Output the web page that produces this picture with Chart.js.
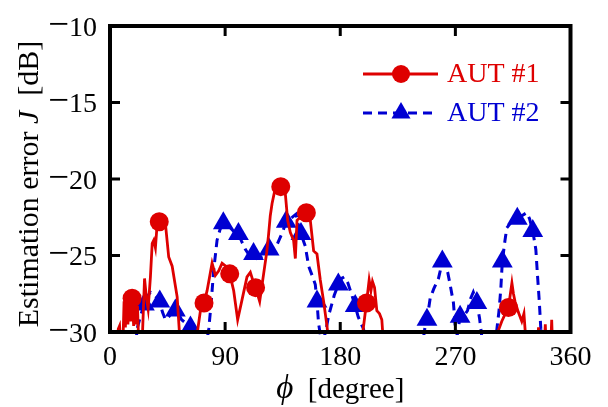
<!DOCTYPE html>
<html>
<head>
<meta charset="utf-8">
<script src="https://cdn.jsdelivr.net/npm/chart.js@4/dist/chart.umd.min.js"></script>
<style>
  html, body { margin: 0; padding: 0; background: #fff; }
  canvas { display: block; }
</style>
</head>
<body>
<canvas id="errChart" width="608" height="407"></canvas>
<script>
// ---- data: estimation error J [dB] vs azimuth phi [degree] ----
// values below -30 dB fall outside the plot and are clipped at the axis
const phi1 = [
  0, 5, 6.5, 7.5, 8.5, 10, 11, 12, 13, 14, 15, 16, 17.3, 18.5, 19.5, 20.5, 21.5, 22.5,
  25, 27, 28.5, 29.8, 31.6, 33, 34.2, 35.5, 36.9, 38.5, 41, 43.3, 45.9, 48.6, 52.5, 55,
  67, 68.5, 70.7, 73.5, 75.9, 79.8, 82.4, 85, 87.6, 90.5, 93.6, 96.7, 99.8, 103.2,
  107.1, 109.7, 112.3, 113.8, 117, 120.1, 122.5, 124, 125.3, 126.7, 129.2, 133.5,
  137, 138.9, 141, 143.5, 144.9, 146.2, 147.5, 150.5, 153.5, 156.6, 159.2, 161.8,
  164.4, 167, 169.6, 171.5,
  197, 197.8, 200.5, 202.6, 204, 205.2, 206.8, 208.6, 210.7, 212.5, 214,
  303, 303.6, 306.3, 308.5, 311.5, 314.2, 315.4, 316.6, 319.2, 321.9, 323.6, 325.5,
  334, 335, 336, 339.5, 340.3, 341, 344.5, 345.3, 346, 360
];
const j1 = [
  -31, -31, -29.8, -29.6, -31, -31, -28.0, -29.7, -27.9, -29.5, -28.0, -29.3, -27.8, -29.6, -28.1, -29.5, -28.3, -31,
  -31, -26.5, -27.8, -28.5, -26.4, -24.2, -24.0, -24.5, -22.9, -22.8, -22.8, -22.9, -25.1, -25.7, -27.7, -31,
  -31, -29.9, -28.6, -28.1, -27.3, -25.5, -26.3, -26.0, -25.5, -25.7, -26.2, -27.3, -29.2, -27.9,
  -26.4, -26.1, -26.8, -27.1, -28.0, -26.2, -24.8, -23.6, -22.4, -21.6, -20.6, -20.5,
  -20.9, -22.7, -23.5, -24.0, -25.2, -22.7, -22.6, -22.3, -22.2, -22.7, -24.7, -24.9,
  -26.6, -28.0, -29.6, -31,
  -31, -29.9, -28.1, -26.6, -27.3, -26.7, -27.1, -28.6, -28.8, -29.2, -31,
  -31, -29.9, -29.3, -28.9, -28.4, -26.8, -27.5, -28.0, -28.7, -29.3, -28.8, -31,
  -31, -29.7, -31, -31, -29.5, -31, -31, -29.2, -31, -31
];
const mark1 = [17.3, 38.5, 73.5, 93.6, 113.8, 133.5, 153.5, 200.5, 311.5];

const phi2 = [
  0, 20, 21.2, 24, 26.9, 29, 31.6, 35, 38.9, 41, 43.3, 46, 48.5, 51.1, 54, 56, 59, 62.9, 64.5, 66,
  75, 77.2, 79, 81, 83.7, 86, 88.6, 92, 96.5, 100.4, 103, 105.8, 109, 112.2, 115, 118, 121, 124.4,
  127.5, 130.5, 134.7, 137.8, 141, 145.4, 147, 149.3, 152.7, 155.3, 158, 160.5, 161.8, 163,
  165, 167, 169, 171, 175.3, 178.5, 181, 183.1, 186, 189.1, 191.7, 194, 196, 198.2, 200,
  244, 246.4, 247.8, 250.3, 253, 256.8, 259.8, 262, 264, 265.9, 268.5, 270, 271.5, 273.7,
  276, 279.5, 282, 284, 286.8, 288.9, 290.5, 292,
  301, 302.6, 304, 305.5, 306.7, 308.8, 310.2, 313, 318.4, 322, 325.8, 328, 330.5, 332.9,
  334.2, 335.6, 336.8, 338, 360
];
const j2 = [
  -31, -31, -29.8, -28.9, -28.2, -27.7, -27.4, -27.6, -28.0, -28.7, -29.2, -29.0, -28.7, -28.6, -28.9, -29.2, -29.4, -29.7, -30.5, -31,
  -31, -29.8, -28.2, -26.0, -24.0, -23.3, -22.9, -23.0, -23.4, -23.6, -24.1, -24.6, -25.0, -24.9, -25.2, -25.1, -24.9, -24.6,
  -24.6, -24.3, -23.5, -22.8, -22.6, -22.3, -22.9, -23.6, -24.4, -25.7, -26.3, -26.9, -28.0, -29.4,
  -30.5, -30.5, -29.8, -28.9, -27.6, -26.9, -26.5, -26.4, -26.8, -27.6, -28.3, -29.0, -29.4, -29.8, -31,
  -31, -29.6, -29.2, -27.8, -27.2, -26.5, -25.4, -25.6, -26.1, -26.9, -28.1, -29.8, -30.2, -29.0,
  -29.0, -28.6, -27.8, -27.4, -28.1, -29.1, -30.2, -31,
  -31, -29.7, -28.7, -27.2, -25.4, -24.0, -23.2, -22.9, -22.6, -22.4, -22.2, -22.6, -23.4, -24.6,
  -26.3, -28.0, -29.8, -31, -31
];
const mark2 = [26.9, 38.9, 51.1, 62.9, 88.6, 100.4, 112.2, 124.4, 137.8, 149.3, 161.8, 178.5,
  191.7, 247.8, 259.8, 273.7, 286.8, 306.7, 318.4, 330.5];

const RED = 'rgb(222, 0, 0)';
const BLUE = 'rgb(0, 0, 210)';
const FONT = "'Liberation Serif', 'Times New Roman', serif";
const TICK_LEN = 10;

Chart.defaults.font.family = FONT;

const toPoints = (xs, ys) => xs.map((x, i) => ({ x, y: ys[i] }));
const markerRadius = (marks, r) => (ctx) => {
  const p = ctx.raw;
  return p && marks.includes(p.x) ? r : 0;
};

// draws runs of [text, italic, size] one after another from (x, y)
function drawRuns(ctx, runs, x, y) {
  runs.forEach(([txt, italic, size]) => {
    ctx.font = (italic ? 'italic ' : '') + size + 'px ' + FONT;
    ctx.fillText(txt, x, y);
    x += ctx.measureText(txt).width;
  });
}
function runsWidth(ctx, runs) {
  return runs.reduce((w, [txt, italic, size]) => {
    ctx.font = (italic ? 'italic ' : '') + size + 'px ' + FONT;
    return w + ctx.measureText(txt).width;
  }, 0);
}

// box frame with inward ticks on all four sides, plus y tick labels
// (drawn here so the minus sign can be set a little larger than the digits)
const framePlugin = {
  id: 'frame',
  afterDatasetsDraw(chart) {
    const { ctx, chartArea: a, scales: { x, y } } = chart;
    ctx.save();
    ctx.strokeStyle = '#000';
    ctx.lineWidth = 3;
    ctx.beginPath();
    x.ticks.forEach(t => {
      const px = x.getPixelForValue(t.value);
      ctx.moveTo(px, a.bottom); ctx.lineTo(px, a.bottom - TICK_LEN);
      ctx.moveTo(px, a.top); ctx.lineTo(px, a.top + TICK_LEN);
    });
    y.ticks.forEach(t => {
      const py = y.getPixelForValue(t.value);
      ctx.moveTo(a.left, py); ctx.lineTo(a.left + TICK_LEN, py);
      ctx.moveTo(a.right, py); ctx.lineTo(a.right - TICK_LEN, py);
    });
    ctx.stroke();
    ctx.lineWidth = 4;
    ctx.strokeRect(a.left, a.top, a.right - a.left, a.bottom - a.top);

    ctx.fillStyle = '#000';
    ctx.textAlign = 'left';
    ctx.textBaseline = 'alphabetic';
    y.ticks.forEach(t => {
      const py = y.getPixelForValue(t.value);
      const runs = t.value < 0
        ? [['\u2212', false, 37], [String(Math.abs(t.value)), false, 28]]
        : [[String(t.value), false, 28]];
      const w = runsWidth(ctx, runs);
      drawRuns(ctx, runs, 97 - w, py + 9.5);
    });
    ctx.restore();
  }
};

// axis titles with italic symbols
const titlePlugin = {
  id: 'axisTitles',
  afterDraw(chart) {
    const { ctx, chartArea: a } = chart;
    ctx.save();
    ctx.fillStyle = '#000';
    ctx.textBaseline = 'alphabetic';
    ctx.textAlign = 'left';

    const xRuns = [['\u03D5', true, 33], ['  [degree]', false, 29]];
    const xw = runsWidth(ctx, xRuns);
    drawRuns(ctx, xRuns, (a.left + a.right) / 2 - xw / 2, 398);

    const yRuns = [['Estimation error ', false, 30], ['J', true, 30], ['  [dB]', false, 30]];
    const yw = runsWidth(ctx, yRuns);
    ctx.translate(38, 184);
    ctx.rotate(-Math.PI / 2);
    drawRuns(ctx, yRuns, -yw / 2, 0);
    ctx.restore();
  }
};

// legend: line sample with a marker in the middle, coloured label
const legendPlugin = {
  id: 'lineLegend',
  afterDraw(chart) {
    const { ctx } = chart;
    const x0 = 363, x1 = 438, xm = 401, tx = 447;
    const rows = chart.data.datasets.map((ds, i) => ({ ds, y: 74 + i * 39 }));
    ctx.save();
    rows.forEach(({ ds, y }) => {
      ctx.strokeStyle = ds.borderColor;
      ctx.lineWidth = ds.borderWidth;
      ctx.setLineDash(ds.borderDash || []);
      ctx.beginPath();
      ctx.moveTo(x0, y); ctx.lineTo(x1, y);
      ctx.stroke();
      ctx.setLineDash([]);
      ctx.fillStyle = ds.borderColor;
      Chart.helpers.drawPoint(ctx, {
        pointStyle: ds.pointStyle,
        radius: ds.legendRadius,
        rotation: 0,
        borderWidth: 0
      }, xm, y);
      ctx.font = '28px ' + FONT;
      ctx.textBaseline = 'middle';
      ctx.fillText(ds.label, tx, y + 1);
    });
    ctx.restore();
  }
};

new Chart(document.getElementById('errChart'), {
  type: 'line',
  data: {
    datasets: [
      {
        label: 'AUT #1',
        data: toPoints(phi1, j1),
        borderColor: RED,
        backgroundColor: RED,
        borderWidth: 2.8,
        pointStyle: 'circle',
        legendRadius: 9,
        pointRadius: markerRadius(mark1, 9.5),
        pointBorderWidth: 0,
        tension: 0,
        clip: { left: 0, top: 0, right: 0, bottom: 2 }
      },
      {
        label: 'AUT #2',
        data: toPoints(phi2, j2),
        borderColor: BLUE,
        backgroundColor: BLUE,
        borderWidth: 3,
        borderDash: [9, 6],
        pointStyle: 'triangle',
        legendRadius: 11,
        pointRadius: markerRadius(mark2, 12),
        pointBorderWidth: 0,
        tension: 0,
        clip: { left: 0, top: 0, right: 0, bottom: 3 }
      }
    ]
  },
  options: {
    responsive: false,
    animation: false,
    events: [],
    layout: { padding: { left: 0, right: 37.5, top: 26, bottom: 0 } },
    plugins: { legend: { display: false }, tooltip: { enabled: false } },
    scales: {
      x: {
        type: 'linear',
        min: 0,
        max: 360,
        grid: { display: false },
        border: { display: false },
        ticks: { stepSize: 90, padding: 1, color: '#000', font: { size: 28 }, maxRotation: 0 },
        afterFit: (s) => { s.height = 75; }
      },
      y: {
        min: -30,
        max: -10,
        grid: { display: false },
        border: { display: false },
        ticks: { stepSize: 5, display: false },
        afterFit: (s) => { s.width = 110; }
      }
    }
  },
  plugins: [framePlugin, titlePlugin, legendPlugin]
});
</script>
</body>
</html>
